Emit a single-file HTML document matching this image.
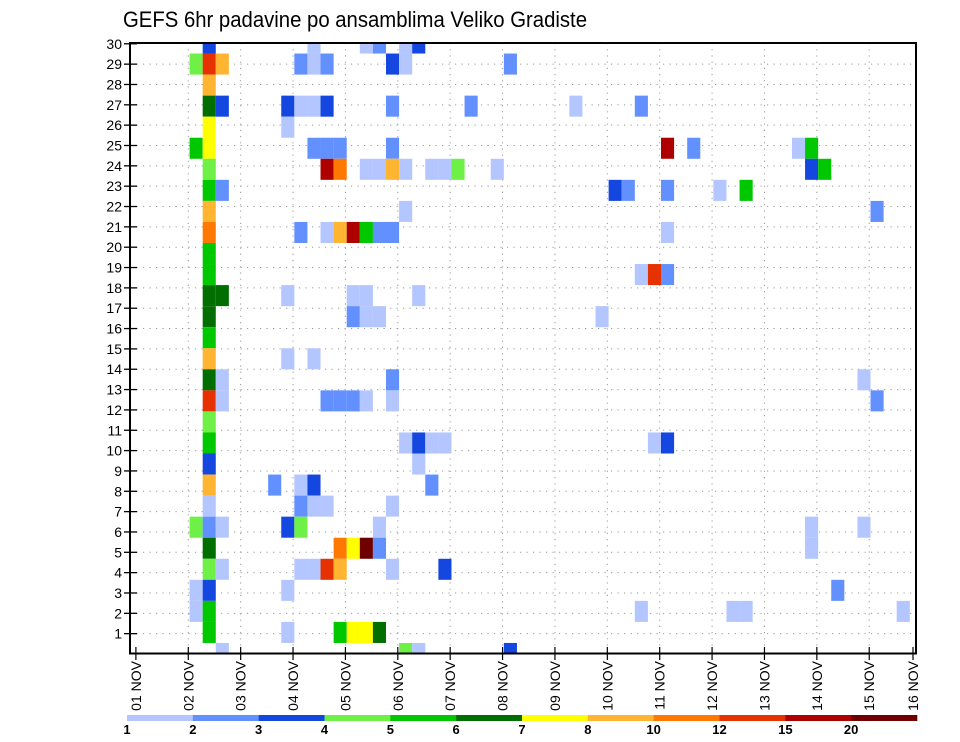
<!DOCTYPE html>
<html><head><meta charset="utf-8">
<style>
html,body{margin:0;padding:0;background:#fff;}
svg{display:block;font-family:"Liberation Sans",sans-serif;}
</style></head>
<body>
<svg id="chart" width="960" height="742" viewBox="0 0 960 742" xmlns="http://www.w3.org/2000/svg">
<text x="123" y="27" font-size="22" textLength="464" lengthAdjust="spacingAndGlyphs" fill="#000">GEFS 6hr padavine po ansamblima Veliko Gradiste</text>
<g id="grid"></g>
<g id="cells"></g>
<g id="axes"></g>
<g id="legend"></g>
</svg>
<script>
// ---- data ----
const dayLabels = ["01 NOV","02 NOV","03 NOV","04 NOV","05 NOV","06 NOV","07 NOV","08 NOV","09 NOV","10 NOV","11 NOV","12 NOV","13 NOV","14 NOV","15 NOV","16 NOV"];
const memberTicks = [1,2,3,4,5,6,7,8,9,10,11,12,13,14,15,16,17,18,19,20,21,22,23,24,25,26,27,28,29,30];
const legendLevels = [1,2,3,4,5,6,7,8,10,12,15,20];
const legendColors = ["#b4c6ff","#6290ff","#1446e0","#6ef046","#00c800","#006e00","#ffff00","#ffb432","#ff7800","#e63200","#af0000","#6e0000"];
// each cell: member row index (0 = bottom), 6-hourly step index, precipitation value
const cellMember = [
29,29,29,29,29,29,
28,28,28,28,28,28,28,28,28,
27,
26,26,26,26,26,26,26,26,26,26,
25,25,
24,24,24,24,24,24,24,24,24,24,
23,23,23,23,23,23,23,23,23,23,23,23,23,
22,22,22,22,22,22,22,
21,21,21,
20,20,20,20,20,20,20,20,20,
19,
18,18,18,18,
17,17,17,17,17,17,
16,16,16,16,16,
15,
14,14,14,
13,13,13,13,
12,12,12,12,12,12,12,12,
11,
10,10,10,10,10,10,10,
9,9,
8,8,8,8,8,
7,7,7,7,7,
6,6,6,6,6,6,6,6,
5,5,5,5,5,5,
4,4,4,4,4,4,4,4,
3,3,3,3,
2,2,2,2,2,2,
1,1,1,1,1,1,
0,0,0,0];
const cellStep = [
5,13,17,18,20,21,
4,5,6,12,13,14,19,20,28,
5,
5,6,11,12,13,14,19,25,33,38,
5,11,
4,5,13,14,15,19,40,42,50,51,
5,14,15,17,18,19,20,22,23,24,27,51,52,
5,6,36,37,40,44,46,
5,20,56,
5,12,14,15,16,17,18,19,40,
5,
5,38,39,40,
5,6,11,16,17,21,
5,16,17,18,35,
5,
5,11,13,
5,6,19,55,
5,6,14,15,16,17,19,56,
5,
5,20,21,22,23,39,40,
5,21,
5,10,12,13,22,
5,12,13,14,19,
4,5,6,11,12,18,51,55,
5,15,16,17,18,51,
5,6,12,13,14,15,19,23,
4,5,11,53,
4,5,38,45,46,58,
5,11,15,16,17,18,
6,20,21,28];
const cellValue = [
3.5,1.5,1.5,2.5,1.5,3.5,
4.5,13,9,2.5,1.5,2.5,3.5,1.5,2.5,
9,
6.5,3.5,3.5,1.5,1.5,3.5,2.5,2.5,1.5,2.5,
7.5,1.5,
5.5,7.5,2.5,2.5,2.5,2.5,17,2.5,1.5,5.5,
4.5,17,11,1.5,1.5,9,1.5,1.5,1.5,4.5,1.5,3.5,5.5,
5.5,2.5,3.5,2.5,2.5,1.5,5.5,
9,1.5,2.5,
11,2.5,1.5,9,17,5.5,2.5,2.5,1.5,
5.5,
5.5,1.5,13,2.5,
6.5,6.5,1.5,1.5,1.5,1.5,
6.5,2.5,1.5,1.5,1.5,
5.5,
9,1.5,1.5,
6.5,1.5,2.5,1.5,
13,1.5,2.5,2.5,2.5,1.5,1.5,2.5,
4.5,
5.5,1.5,3.5,1.5,1.5,1.5,3.5,
3.5,1.5,
9,2.5,1.5,3.5,2.5,
1.5,2.5,1.5,1.5,1.5,
4.5,2.5,1.5,3.5,4.5,1.5,1.5,1.5,
6.5,11,7.5,22,2.5,1.5,
4.5,1.5,1.5,1.5,13,9,1.5,3.5,
1.5,3.5,1.5,2.5,
1.5,5.5,1.5,1.5,1.5,1.5,
5.5,1.5,5.5,7.5,7.5,6.5,
1.5,4.5,1.5,3.5];

// ---- geometry ----
const NS="http://www.w3.org/2000/svg";
const L=130, R=916, T=43, B=653.5;
const day0=135.9, dayW=52.38;
const dayX = d => day0 + d*dayW;
const stepX = k => 137.2 + k*dayW/4;
const stepW = dayW/4;
const rowH = (B-T)/29;
const memberY = j => B - j*rowH;
const tickY = r => 654 - r*20.34;
function colorFor(v){let c=null;for(let i=0;i<legendLevels.length;i++){if(v>=legendLevels[i])c=legendColors[i];}return c;}
function mk(tag,attrs,parent){const e=document.createElementNS(NS,tag);for(const a in attrs)e.setAttribute(a,attrs[a]);parent.appendChild(e);return e;}

const grid=document.getElementById('grid');
for(let d=1; d<15; d++){
  const ln=mk('line',{x1:dayX(d),x2:dayX(d),y1:T,y2:B,stroke:'#999','stroke-width':1,'stroke-dasharray':'1.2 5'},grid);
  
  
}
memberTicks.forEach(r=>{
  if(r>=30) return;
  const ln=mk('line',{x1:L,x2:R,y1:tickY(r),y2:tickY(r),stroke:'#999','stroke-width':1,'stroke-dasharray':'1.2 5.3'},grid);
  
  
});

const cells=document.getElementById('cells');
for(let i=0;i<cellValue.length;i++){
  const c=colorFor(cellValue[i]); if(!c) continue;
  let x0=stepX(cellStep[i]), x1=x0+stepW;
  let yc=memberY(cellMember[i]), y0=yc-rowH/2, y1=yc+rowH/2;
  x0=Math.max(x0,L); x1=Math.min(x1,R); y0=Math.max(y0,T); y1=Math.min(y1,B);
  const rc=mk('rect',{x:x0.toFixed(2),y:y0.toFixed(2),width:(x1-x0).toFixed(2),height:(y1-y0).toFixed(2),fill:c},cells);
  
  
}

const axes=document.getElementById('axes');
const box=mk('rect',{x:L,y:T,width:R-L,height:B-T,fill:'none',stroke:'#000','stroke-width':2},axes);


memberTicks.forEach(r=>{
  const y=tickY(r);
  const tk=mk('line',{x1:124,x2:137,y1:y,y2:y,stroke:'#000','stroke-width':1.3},axes);
  
  
  const t=mk('text',{x:122,y:y+5,'font-size':14,'text-anchor':'end',fill:'#000'},axes);
  t.textContent=r;
  
  
});
dayLabels.forEach((lab,d)=>{
  const x = d<15 ? dayX(d) : 913;
  const tk=mk('line',{x1:x,x2:x,y1:647,y2:660,stroke:'#000','stroke-width':1.2},axes);
  
  
  const t=mk('text',{x:0,y:0,'font-size':14,'text-anchor':'end',fill:'#000',transform:`translate(${x+5},${661}) rotate(-90)`},axes);
  t.textContent=lab;
  
  
});

const leg=document.getElementById('legend');
const lx0=127, lx1=917, segW=(lx1-lx0)/legendColors.length;
legendColors.forEach((c,i)=>{
  const rc=mk('rect',{x:lx0+i*segW,y:715,width:segW+0.3,height:6,fill:c},leg);
  
  
});
legendLevels.forEach((v,i)=>{
  const t=mk('text',{x:lx0+i*segW,y:734,'font-size':13,'font-weight':'bold','text-anchor':'middle',fill:'#000'},leg);
  t.textContent=v;
  
  
});
</script>
</body></html>
